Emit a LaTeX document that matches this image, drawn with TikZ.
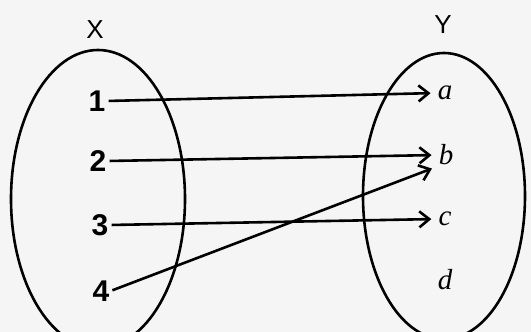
\documentclass[tikz,border=0pt]{standalone}
\usepackage{fontspec}
\setmainfont{Liberation Sans}
\newfontfamily\serifit{Liberation Serif}
\usetikzlibrary{arrows.meta}
\begin{document}
\begin{tikzpicture}[x=1pt,y=-1pt,
  setoval/.style={draw, line width=2.6pt},
  elem/.style={font=\fontsize{30}{30}\selectfont\bfseries, inner sep=1pt},
  setname/.style={font=\fontsize{26}{26}\selectfont, inner sep=1pt},
  img/.style={font=\serifit\itshape\fontsize{29}{29}\selectfont, inner sep=1pt},
  maparrow/.style={-{Straight Barb[length=10pt,width=16pt,line width=2.6pt]}, line width=2.6pt, shorten <=2pt, shorten >=6pt}]
\useasboundingbox (0,0) rectangle (531,332);
\fill[black!4] (0,0) rectangle (531,332);
\draw[setoval] (98,199) ellipse [x radius=87, y radius=149];
\draw[setoval] (444,196) ellipse [x radius=81, y radius=143];
\node[setname] (X) at (95,30) {X};
\node[setname] (Y) at (443,25) {Y};
\node[elem] (n1) at (97,101) {1};
\node[elem] (n2) at (98,161) {2};
\node[elem] (n3) at (100,225) {3};
\node[elem] (n4) at (101,291) {4};
\node[img] (a) at (445,93) {a};
\node[img] (b) at (446,155) {b};
\node[img] (c) at (445,219) {c};
\node[img] (d) at (445,280) {d};
\draw[maparrow] (n1.east) -- (a.west);
\draw[maparrow] (n2.east) -- (b.west);
\draw[maparrow] (n3.east) -- (c.west);
\draw[maparrow] (n4.east) -- (b.south west);
\end{tikzpicture}
\end{document}
